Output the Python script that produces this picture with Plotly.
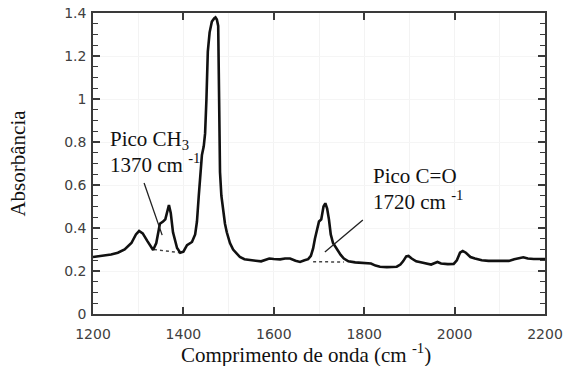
import plotly.graph_objects as go

# Spectrum (wavenumber cm^-1, absorbance)
wavenumber = [1200, 1220, 1240, 1255, 1270, 1285, 1295, 1302, 1310, 1320, 1333, 1340, 1348, 1355,
              1360, 1368, 1372, 1377, 1386, 1393, 1400, 1408, 1419, 1426, 1430, 1434, 1437, 1441,
              1445, 1448, 1451, 1454, 1458, 1463, 1468, 1471, 1474, 1477, 1479, 1481, 1484, 1488,
              1492, 1496, 1503, 1510, 1518, 1525, 1535, 1547, 1560, 1572, 1580, 1590, 1600, 1614,
              1625, 1636, 1648, 1658, 1668, 1676, 1682, 1687, 1691, 1695, 1700, 1705, 1710, 1714,
              1718, 1722, 1726, 1731, 1740, 1748, 1755, 1765, 1780, 1798, 1815, 1825, 1835, 1850,
              1872, 1880, 1886, 1893, 1898, 1905, 1915, 1930, 1940, 1948, 1955, 1962, 1970, 1985,
              1998, 2005, 2012, 2018, 2025, 2035, 2045, 2060, 2075, 2100, 2120, 2132, 2140, 2152,
              2162, 2175, 2200]
absorbance = [0.265, 0.270, 0.277, 0.285, 0.300, 0.330, 0.370, 0.386, 0.375, 0.340, 0.298, 0.330, 0.420, 0.430,
              0.440, 0.507, 0.470, 0.380, 0.307, 0.285, 0.290, 0.320, 0.335, 0.370, 0.430, 0.550, 0.640, 0.740,
              0.780, 0.840, 1.000, 1.220, 1.310, 1.360, 1.375, 1.380, 1.370, 1.340, 1.000, 0.660, 0.550, 0.480,
              0.420, 0.380, 0.330, 0.300, 0.280, 0.265, 0.255, 0.250, 0.248, 0.245, 0.252, 0.258, 0.256, 0.254,
              0.258, 0.258, 0.248, 0.242, 0.250, 0.255, 0.270, 0.305, 0.350, 0.390, 0.430, 0.440, 0.500, 0.515,
              0.490, 0.440, 0.370, 0.330, 0.300, 0.275, 0.258, 0.245, 0.240, 0.237, 0.235, 0.225, 0.220, 0.218,
              0.220, 0.230, 0.245, 0.268, 0.270, 0.258, 0.245, 0.238, 0.235, 0.230, 0.236, 0.242, 0.235, 0.232,
              0.233, 0.250, 0.285, 0.293, 0.285, 0.265, 0.258, 0.250, 0.247, 0.246, 0.247, 0.255, 0.260, 0.264,
              0.258, 0.256, 0.256]

# Dotted baselines under the peaks
ch3_base_x = [1335, 1392]
ch3_base_y = [0.300, 0.285]
co_base_x = [1687, 1755]
co_base_y = [0.243, 0.242]

# Pointer lines from labels to peaks
ch3_ptr_x = [1313, 1353]
ch3_ptr_y = [0.609, 0.367]
co_ptr_x = [1797, 1713]
co_ptr_y = [0.437, 0.288]

x_ticks = [1200, 1400, 1600, 1800, 2000, 2200]
y_ticks = [0, 0.2, 0.4, 0.6, 0.8, 1.0, 1.2, 1.4]
y_tick_text = ["0", "0.2", "0.4", "0.6", "0.8", "1", "1.2", "1.4"]

SERIF = "Liberation Serif, Times New Roman, serif"
SANS = "DejaVu Sans, Verdana, sans-serif"

fig = go.Figure()
fig.add_trace(go.Scatter(x=ch3_base_x, y=ch3_base_y, mode="lines",
                         line=dict(color="#444", width=1.5, dash="dot"), hoverinfo="skip"))
fig.add_trace(go.Scatter(x=co_base_x, y=co_base_y, mode="lines",
                         line=dict(color="#444", width=1.5, dash="dot"), hoverinfo="skip"))
fig.add_trace(go.Scatter(x=wavenumber, y=absorbance, mode="lines",
                         line=dict(color="#111", width=2.6)))
fig.add_trace(go.Scatter(x=ch3_ptr_x, y=ch3_ptr_y, mode="lines",
                         line=dict(color="#222", width=1.3), hoverinfo="skip"))
fig.add_trace(go.Scatter(x=co_ptr_x, y=co_ptr_y, mode="lines",
                         line=dict(color="#222", width=1.3), hoverinfo="skip"))

axis_common = dict(showline=True, linecolor="#3a3a3a", linewidth=1.5, mirror="allticks",
                   ticks="inside", tickcolor="#3a3a3a", tickwidth=1.5, ticklen=7,
                   tickfont=dict(family=SANS, size=14, color="#404040"), zeroline=False,
                   automargin=False)

fig.update_xaxes(range=[1200, 2200], tickvals=x_ticks, showgrid=True, gridcolor="#f3f3f3",
                 minor=dict(dtick=100, ticklen=0, showgrid=True, gridcolor="#f3f3f3"),
                 ticklabelstandoff=6, **axis_common)
fig.update_yaxes(range=[0, 1.4], tickvals=y_ticks, ticktext=y_tick_text, showgrid=True,
                 gridcolor="#f5f5f5",
                 minor=dict(dtick=0.05, ticks="inside", ticklen=5, tickcolor="#3a3a3a",
                            tickwidth=1.2, showgrid=False),
                 ticklabelstandoff=2, **axis_common)

ann_font = dict(family=SERIF, size=21, color="#111")
annotations = [
    dict(x=-0.168, y=0.5, xref="paper", yref="paper", text="Absorbância", textangle=-90,
         showarrow=False, font=ann_font, xanchor="center", yanchor="middle"),
    dict(x=(306 - 93) / 452, y=(366 - 52 - 353) / 301, xref="paper", yref="paper",
         text="Comprimento de onda (cm <sup>-1</sup>)", showarrow=False, font=ann_font,
         xanchor="center", yanchor="middle"),
    dict(x=1233, y=0.809, xref="x", yref="y", text="Pico CH<sub>3</sub>", showarrow=False,
         font=ann_font, xanchor="left", yanchor="middle"),
    dict(x=1233, y=0.698, xref="x", yref="y", text="1370 cm <sup>-1</sup>", showarrow=False,
         font=ann_font, xanchor="left", yanchor="middle"),
    dict(x=1815, y=0.642, xref="x", yref="y", text="Pico C=O", showarrow=False,
         font=ann_font, xanchor="left", yanchor="middle"),
    dict(x=1815, y=0.530, xref="x", yref="y", text="1720 cm <sup>-1</sup>", showarrow=False,
         font=ann_font, xanchor="left", yanchor="middle"),
]

fig.update_layout(width=564, height=366, margin=dict(l=93, r=19, t=13, b=52),
                  plot_bgcolor="white", paper_bgcolor="white", showlegend=False,
                  annotations=annotations)

fig.write_html("out.html", config={"displayModeBar": False},
               post_script="document.body.style.margin='0';document.body.style.padding='0';")
